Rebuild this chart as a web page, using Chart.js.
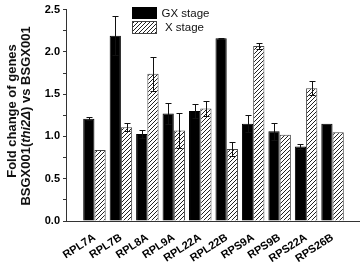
<!DOCTYPE html>
<html>
<head>
<meta charset="utf-8">
<script src="https://cdn.jsdelivr.net/npm/chart.js@4.4.0/dist/chart.umd.min.js"></script>
<style>
  body { margin: 0; background: #fff; }
  #wrap { width: 360px; height: 262px; }
</style>
</head>
<body>
<div id="wrap"><canvas id="chart"></canvas></div>
<script>
// Data
const genes = ['RPL7A', 'RPL7B', 'RPL8A', 'RPL9A', 'RPL22A', 'RPL22B', 'RPS9A', 'RPS9B', 'RPS22A', 'RPS26B'];
const gxStage = [1.21, 2.19, 1.03, 1.27, 1.30, 2.16, 1.15, 1.06, 0.88, 1.15];
const gxErr = [0.02, 0.23, 0.05, 0.12, 0.08, 0.01, 0.10, 0.10, 0.03, 0];
const xStage = [0.84, 1.11, 1.74, 1.07, 1.33, 0.85, 2.07, 1.02, 1.57, 1.05];
const xErr = [0, 0.05, 0.20, 0.21, 0.09, 0.08, 0.04, 0, 0.085, 0];
const seriesNames = ['GX stage', 'X stage'];

const FONT = "'Liberation Sans', Arial, sans-serif";
const AXIS = '#333';

function makeHatch() {
    const c = document.createElement('canvas');
    c.width = 4; c.height = 4;
    const g = c.getContext('2d');
    g.fillStyle = '#fff';
    g.fillRect(0, 0, 4, 4);
    g.strokeStyle = '#222';
    g.lineWidth = 1;
    g.beginPath();
    g.moveTo(0, 4); g.lineTo(4, 0);
    g.moveTo(-1, 1); g.lineTo(1, -1);
    g.moveTo(3, 5); g.lineTo(5, 3);
    g.stroke();
    return g.createPattern(c, 'repeat');
}
const hatch = makeHatch();

// error bars, drawn on top of the bars
const errorBars = {
    id: 'errorBars',
    afterDatasetsDraw(chart) {
        const ctx = chart.ctx;
        const y = chart.scales.y;
        const errs = [gxErr, xErr];
        ctx.save();
        ctx.strokeStyle = '#111';
        ctx.lineWidth = 1;
        chart.data.datasets.forEach((ds, i) => {
            const meta = chart.getDatasetMeta(i);
            meta.data.forEach((bar, j) => {
                const e = errs[i][j];
                if (!e) return;
                const v = ds.data[j].y;
                const top = Math.round(y.getPixelForValue(v + e)) + 0.5;
                const bot = Math.round(y.getPixelForValue(v - e)) + 0.5;
                const x = Math.round(bar.x) + 0.5;
                ctx.beginPath();
                ctx.moveTo(x, top); ctx.lineTo(x, bot);
                ctx.moveTo(x - 3, top); ctx.lineTo(x + 3, top);
                ctx.moveTo(x - 3, bot); ctx.lineTo(x + 3, bot);
                ctx.stroke();
            });
        });
        ctx.restore();
    }
};

// legend inside the plot + rotated y-axis title
const extras = {
    id: 'extras',
    afterDraw(chart) {
        const ctx = chart.ctx;
        ctx.save();
        ctx.fillStyle = '#000';
        ctx.fillRect(132, 7, 25, 12);
        ctx.fillStyle = hatch;
        ctx.fillRect(132, 21, 25, 13);
        ctx.strokeStyle = '#444';
        ctx.lineWidth = 1;
        ctx.strokeRect(132.5, 21.5, 24, 12);
        ctx.fillStyle = '#111';
        ctx.font = '11.5px ' + FONT;
        ctx.textBaseline = 'middle';
        ctx.textAlign = 'left';
        ctx.fillText(seriesNames[0], 161.5, 13.5);
        ctx.fillText(seriesNames[1], 165, 27.5);

        ctx.save();
        ctx.translate(12, 111);
        ctx.rotate(-Math.PI / 2);
        ctx.font = 'bold 13px ' + FONT;
        ctx.textAlign = 'center';
        ctx.fillText('Fold change of genes', 0, 0);
        ctx.restore();

        ctx.save();
        ctx.translate(26, 116);
        ctx.rotate(-Math.PI / 2);
        const parts = [
            ['BSGX001(', 'bold 13px ' + FONT],
            ['thi2\u0394', 'italic bold 13px ' + FONT],
            [') vs BSGX001', 'bold 13px ' + FONT]
        ];
        let total = 0;
        parts.forEach(p => { ctx.font = p[1]; total += ctx.measureText(p[0]).width; });
        let px = -total / 2;
        ctx.textAlign = 'left';
        parts.forEach(p => {
            ctx.font = p[1];
            ctx.fillText(p[0], px, 0);
            px += ctx.measureText(p[0]).width;
        });
        ctx.restore();
        ctx.restore();
    }
};

const ctx = document.getElementById('chart').getContext('2d');
new Chart(ctx, {
    type: 'bar',
    data: {
        datasets: [{
            label: seriesNames[0],
            data: genes.map((g, i) => ({ x: i, y: gxStage[i] })),
            backgroundColor: '#000',
            borderColor: '#000',
            borderWidth: 1,
            categoryPercentage: 0.85,
            barPercentage: 1.0
        },
        {
            label: seriesNames[1],
            data: genes.map((g, i) => ({ x: i, y: xStage[i] })),
            backgroundColor: hatch,
            borderColor: '#444',
            borderWidth: 1,
            categoryPercentage: 0.85,
            barPercentage: 1.0
        }
        ]
    },
    options: {
        responsive: true,
        maintainAspectRatio: false,
        animation: false,
        layout: { padding: { left: 0, right: 1, top: 4, bottom: 0 } },
        plugins: {
            legend: { display: false },
            tooltip: { enabled: false }
        },
        scales: {
            x: {
                type: 'linear',
                offset: false,
                min: -1.075,
                max: 10,
                afterBuildTicks: (s) => { s.ticks = genes.map((g, i) => ({ value: i })); },
                afterFit: (s) => { s.height = 41; },
                grid: { display: false, offset: false },
                border: { display: true, color: AXIS, width: 1 },
                ticks: {
                    autoSkip: false,
                    minRotation: 33,
                    maxRotation: 33,
                    padding: 2,
                    color: '#000',
                    font: { family: FONT, size: 11, weight: 'bold' },
                    callback: (v) => genes[v]
                }
            },
            y: {
                min: 0,
                max: 2.5,
                afterFit: (s) => { s.width = 66; },
                grid: { drawOnChartArea: false, tickLength: 3, color: AXIS },
                border: { display: true, color: AXIS, width: 1 },
                ticks: {
                    stepSize: 0.25,
                    padding: 3,
                    color: '#000',
                    font: { family: FONT, size: 11, weight: 'bold' },
                    callback: (v) => (Math.abs(v * 2 - Math.round(v * 2)) < 1e-6 ? v.toFixed(1) : '')
                }
            }
        }
    },
    plugins: [errorBars, extras]
});
</script>
</body>
</html>
